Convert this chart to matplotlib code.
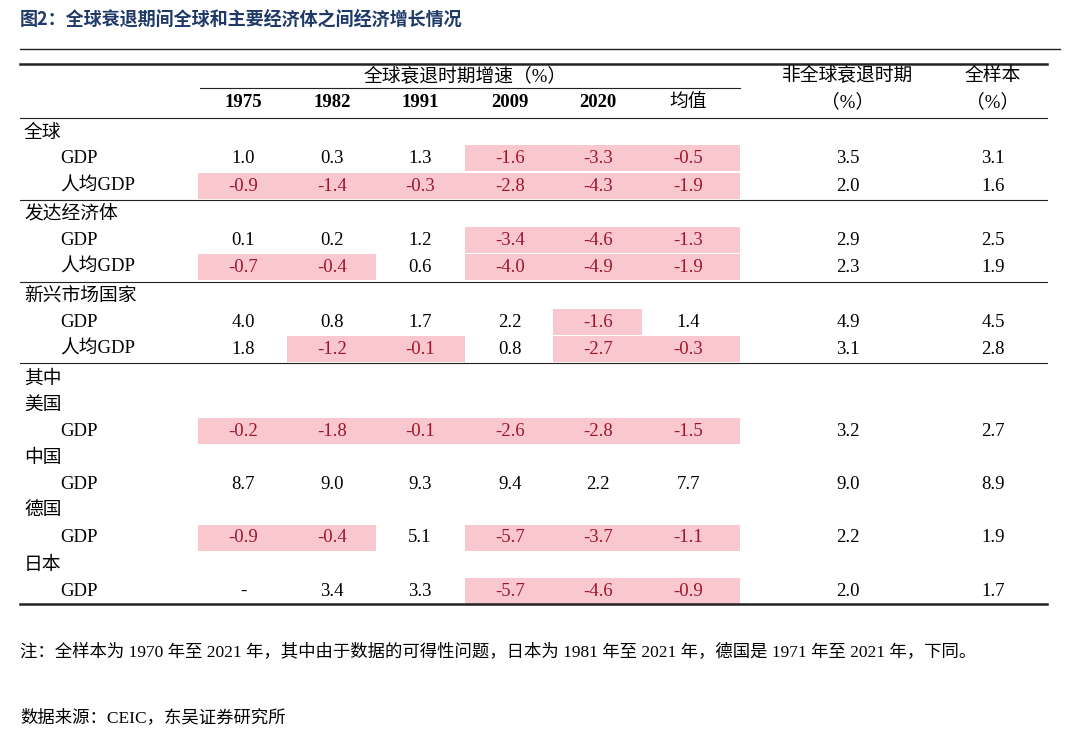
import matplotlib
matplotlib.use("Agg")
import matplotlib.pyplot as plt
from matplotlib.patches import Rectangle

plt.rcParams['font.family'] = ['Liberation Serif', 'Noto Sans CJK SC', 'DejaVu Sans']

title = "图2：全球衰退期间全球和主要经济体之间经济增长情况"
years = ["1975", "1982", "1991", "2009", "2020", "均值"]
row_labels = ["全球", "GDP", "人均GDP", "发达经济体", "GDP", "人均GDP", "新兴市场国家", "GDP", "人均GDP",
              "其中", "美国", "GDP", "中国", "GDP", "德国", "GDP", "日本", "GDP"]
row_y = [133, 158, 186, 214, 240, 267, 296, 322, 349, 379, 405, 431, 458, 484, 511, 538, 565, 591]
recession = {
    1: [1.0, 0.3, 1.3, -1.6, -3.3, -0.5],
    2: [-0.9, -1.4, -0.3, -2.8, -4.3, -1.9],
    4: [0.1, 0.2, 1.2, -3.4, -4.6, -1.3],
    5: [-0.7, -0.4, 0.6, -4.0, -4.9, -1.9],
    7: [4.0, 0.8, 1.7, 2.2, -1.6, 1.4],
    8: [1.8, -1.2, -0.1, 0.8, -2.7, -0.3],
    11: [-0.2, -1.8, -0.1, -2.6, -2.8, -1.5],
    13: [8.7, 9.0, 9.3, 9.4, 2.2, 7.7],
    15: [-0.9, -0.4, 5.1, -5.7, -3.7, -1.1],
    17: [None, 3.4, 3.3, -5.7, -4.6, -0.9],
}
non_recession = {1: 3.5, 2: 2.0, 4: 2.9, 5: 2.3, 7: 4.9, 8: 3.1, 11: 3.2, 13: 9.0, 15: 2.2, 17: 2.0}
full_sample = {1: 3.1, 2: 1.6, 4: 2.5, 5: 1.9, 7: 4.5, 8: 2.8, 11: 2.7, 13: 8.9, 15: 1.9, 17: 1.7}
note = "注：全样本为 1970 年至 2021 年，其中由于数据的可得性问题，日本为 1981 年至 2021 年，德国是 1971 年至 2021 年，下同。"
source = "数据来源：CEIC，东吴证券研究所"

fig = plt.figure(figsize=(10.8, 7.48), dpi=100)
ax = fig.add_axes([0, 0, 1, 1])
ax.set_xlim(0, 1080); ax.set_ylim(748, 0); ax.axis('off')

fs = 13.5
ax.text(20, 20, title, fontsize=13, fontweight='bold', color='#1f3a68', va='center',
        family=['Noto Sans CJK SC', 'DejaVu Sans'])
ax.plot([20, 1060], [49, 49], color='#222', lw=1)
ax.plot([20, 1047], [64, 64], color='#222', lw=1.8)
ax.text(465, 76, "全球衰退时期增速（%）", fontsize=fs, ha='center', va='center')
ax.plot([200, 740], [88, 88], color='#222', lw=0.8)
col_x = [243, 332, 420, 510, 598, 688]
bounds = [198, 287, 376, 465, 553, 642, 740]
for x, y in zip(col_x, years):
    ax.text(x, 102, y, fontsize=fs, ha='center', va='center', fontweight='bold' if y != "均值" else 'normal')
ax.text(848, 76, "非全球衰退时期", fontsize=fs, ha='center', va='center')
ax.text(848, 102, "（%）", fontsize=fs, ha='center', va='center')
ax.text(993, 76, "全样本", fontsize=fs, ha='center', va='center')
ax.text(993, 102, "（%）", fontsize=fs, ha='center', va='center')
ax.plot([20, 1047], [118, 118], color='#222', lw=0.8)
for y in [200, 282, 363]:
    ax.plot([20, 1047], [y, y], color='#222', lw=0.8)
ax.plot([20, 1047], [604, 604], color='#222', lw=1.8)

for i, (lab, y) in enumerate(zip(row_labels, row_y)):
    x = 60 if lab in ("GDP", "人均GDP") else 24
    ax.text(x, y, lab, fontsize=fs, va='center')
    if i in recession:
        for j, v in enumerate(recession[i]):
            if v is None:
                ax.text(col_x[j], y, "-", fontsize=fs, ha='center', va='center')
                continue
            if v < 0:
                ax.add_patch(Rectangle((bounds[j], y - 13), bounds[j + 1] - bounds[j], 26,
                                       color='#f9c8cf', lw=0))
            ax.text(col_x[j], y, f"{v:.1f}", fontsize=fs, ha='center', va='center',
                    color='#a0142a' if v < 0 else 'black')
        ax.text(848, y, f"{non_recession[i]:.1f}", fontsize=fs, ha='center', va='center')
        ax.text(993, y, f"{full_sample[i]:.1f}", fontsize=fs, ha='center', va='center')

ax.text(20, 652, note, fontsize=12.5, va='center')
ax.text(20, 718, source, fontsize=12.5, va='center')
fig.savefig("out.png", dpi=100)
